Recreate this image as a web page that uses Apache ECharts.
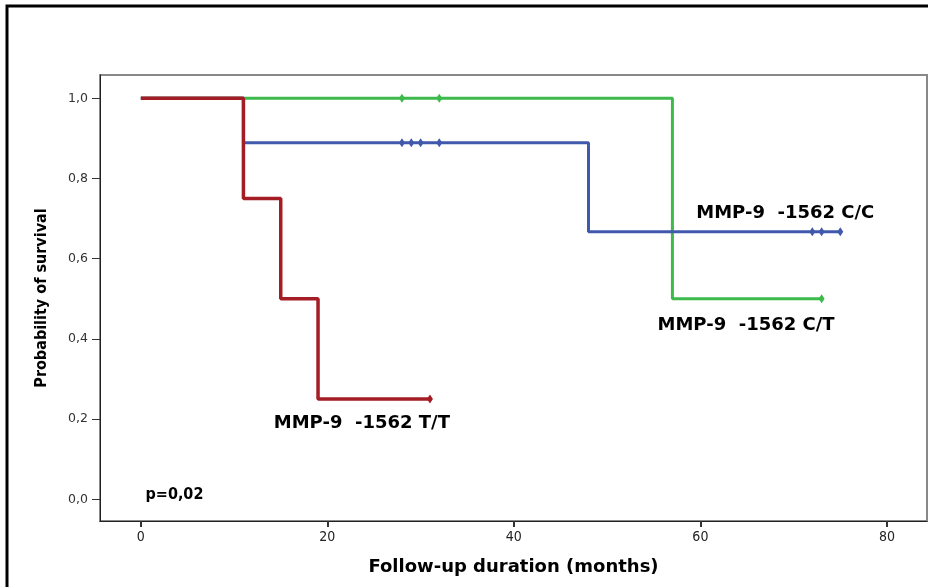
<!DOCTYPE html>
<html>
<head>
<meta charset="utf-8">
<script src="https://cdn.jsdelivr.net/npm/echarts@6/dist/echarts.min.js"></script>
<style>html,body{margin:0;padding:0;background:#fff}#c{width:928px;height:587px}</style>
</head>
<body>
<div id="c"></div>
<script>
// Kaplan-Meier step data [month, survival]
const xTicks = [0, 20, 40, 60, 80];
const yTicks = [0, 0.2, 0.4, 0.6, 0.8, 1.0];

const ttSteps = [[0, 1.0], [11, 1.0], [11, 0.75], [15, 0.75], [15, 0.5], [19, 0.5], [19, 0.25], [31, 0.25]];
const ttCensored = [[31, 0.25]];

const ctSteps = [[0, 1.0], [57, 1.0], [57, 0.5], [73, 0.5]];
const ctCensored = [[28, 1.0], [32, 1.0], [73, 0.5]];

const ccSteps = [[0, 1.0], [11, 1.0], [11, 0.889], [48, 0.889], [48, 0.667], [75, 0.667]];
const ccCensored = [[28, 0.889], [29, 0.889], [30, 0.889], [32, 0.889], [72, 0.667], [73, 0.667], [75, 0.667]];

const labels = [
  { name: 'MMP-9  -1562 C/C', pos: [69.1, 0.712] },
  { name: 'MMP-9  -1562 C/T', pos: [64.9, 0.435] },
  { name: 'MMP-9  -1562 T/T', pos: [23.7, 0.19] }
];
const pLabel = { name: 'p=0,02', pos: [0.5, 0.012] };

const RED = '#a51d24', GREEN = '#3dba4b', BLUE = '#4159ad';
const cond = "'DejaVu Sans Condensed', 'Liberation Sans', Arial, sans-serif";
const dv = "'DejaVu Sans', 'Liberation Sans', sans-serif";

const chart = echarts.init(document.getElementById('c'), null, { renderer: 'canvas' });

function stepSeries(data, color, width, z) {
  return { type: 'line', data: data, showSymbol: false, symbol: 'none', z: z,
    lineStyle: { color: color, width: width }, silent: true, animation: false };
}
function censorSeries(data, color, z) {
  return { type: 'scatter', data: data, symbol: 'diamond', symbolSize: [6, 9], z: z,
    itemStyle: { color: color, opacity: 1 }, silent: true, animation: false };
}

chart.setOption({
  animation: false,
  backgroundColor: '#fff',
  grid: { left: 100, top: 75, right: 1, bottom: 66, show: true, borderColor: '#888', borderWidth: 2, backgroundColor: 'transparent' },
  graphic: [
    { type: 'rect', shape: { x: 7, y: 6, width: 960, height: 620 }, style: { fill: 'none', stroke: '#000', lineWidth: 3 }, z: 100 }
  ],
  xAxis: {
    type: 'value', min: -4.38, max: 84.3,
    name: 'Follow-up duration (months)', nameLocation: 'middle', nameGap: 37,
    nameTextStyle: { fontFamily: dv, fontWeight: 'bold', fontSize: 18, color: '#000' },
    axisLine: { show: true, onZero: false, lineStyle: { color: '#222', width: 1 } },
    axisTick: { show: true, length: 6, customValues: xTicks, lineStyle: { color: '#333', width: 2 } },
    axisLabel: { customValues: xTicks, fontFamily: cond, fontSize: 14, color: '#222', margin: 9 },
    splitLine: { show: false }
  },
  yAxis: {
    type: 'value', min: -0.054, max: 1.058,
    name: 'Probability of survival', nameLocation: 'middle', nameGap: 50,
    nameTextStyle: { fontFamily: cond, fontWeight: 'bold', fontSize: 16, color: '#000' },
    axisLine: { show: true, onZero: false, lineStyle: { color: '#222', width: 1 } },
    axisTick: { show: true, length: 8, customValues: yTicks, lineStyle: { color: '#333', width: 1 } },
    axisLabel: { customValues: yTicks, fontFamily: dv, fontSize: 12.5, color: '#333', margin: 12,
      formatter: v => v.toFixed(1).replace('.', ',') },
    splitLine: { show: false }
  },
  series: [
    stepSeries(ctSteps, GREEN, 3, 2),
    stepSeries(ccSteps, BLUE, 3, 3),
    stepSeries(ttSteps, RED, 3.5, 4),
    censorSeries(ctCensored, GREEN, 5),
    censorSeries(ccCensored, BLUE, 5),
    censorSeries(ttCensored, RED, 5),
    { type: 'scatter', symbolSize: 0, silent: true, z: 10, itemStyle: { opacity: 1 },
      data: labels.map(l => ({ value: l.pos, name: l.name })),
      label: { show: true, position: 'inside', formatter: p => p.name, textBorderWidth: 0, opacity: 1,
        fontFamily: dv, fontWeight: 'bold', fontSize: 18, color: '#000' } },
    { type: 'scatter', symbolSize: 0, silent: true, z: 10, itemStyle: { opacity: 1 },
      data: [{ value: pLabel.pos, name: pLabel.name }],
      label: { show: true, position: 'right', distance: 0, formatter: p => p.name, textBorderWidth: 0, opacity: 1,
        fontFamily: cond, fontWeight: 'bold', fontSize: 16, color: '#000' } }
  ]
});
</script>
</body>
</html>
